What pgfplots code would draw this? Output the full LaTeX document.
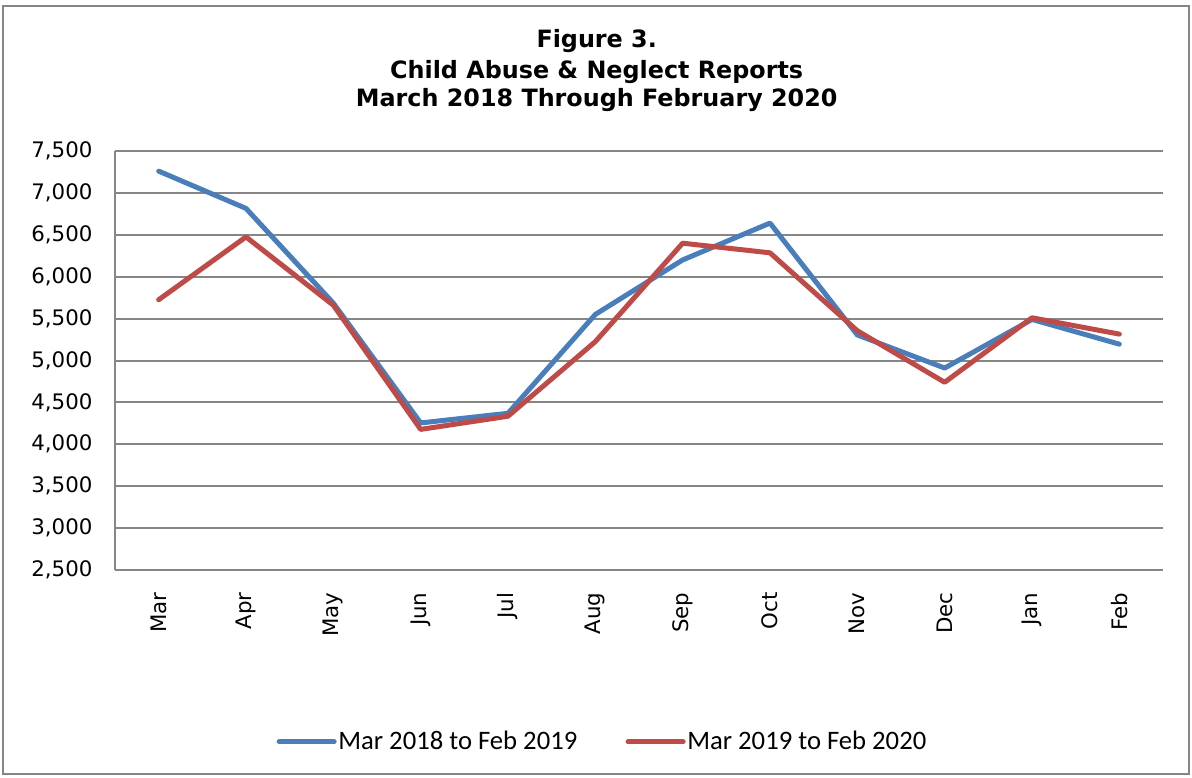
\documentclass[border=0pt]{standalone}
\usepackage{fontspec}
\setmainfont{Carlito}
\newfontfamily\verd{DejaVu Sans}
\usepackage{pgfplots}
\pgfplotsset{compat=1.18}

\definecolor{xlblue}{HTML}{4A7EBB}
\definecolor{xlred}{HTML}{BE4B48}
\definecolor{gridgray}{HTML}{868686}

\begin{document}
\begin{tikzpicture}
% page = reference at 0.6pt per pixel, axis origin at pixel (115,570)
\useasboundingbox (-69pt,-124.2pt) rectangle (646.2pt,342pt);
\draw[gridgray, line width=1.2pt] (-67.2pt,-122.4pt) rectangle (644.4pt,338.4pt);

\tikzset{ttl/.style={anchor=base, font=\verd\bfseries\fontsize{14.3}{17}\selectfont}}
\node[ttl] at (289pt,313.2pt) {Figure 3.};
\node[ttl] at (289pt,294.6pt) {Child Abuse \& Neglect Reports};
\node[ttl] at (289pt,277.8pt) {March 2018 Through February 2020};

\begin{axis}[
    scale only axis,
    width=628.8pt, height=251.4pt,
    xmin=-0.5, xmax=11.5,
    ymin=2500, ymax=7500,
    xtick={0,...,11},
    xticklabels={Mar,Apr,May,Jun,Jul,Aug,Sep,Oct,Nov,Dec,Jan,Feb},
    ytick={2500,3000,...,7500},
    axis lines=left,
    axis line style={draw=gridgray, line width=1.2pt, -},
    ymajorgrids,
    grid style={draw=gridgray, line width=1.2pt},
    major tick length=0pt,
    x tick label style={rotate=90, anchor=east, font=\verd\fontsize{12.8}{14}\selectfont, xshift=-10pt},
    y tick label style={font=\verd\fontsize{12.8}{14}\selectfont, xshift=-10pt},
    /pgf/number format/assume math mode=true,
    /pgf/number format/1000 sep={,},
    /pgf/number format/fixed,
    legend style={at={(axis description cs:0.465,-0.41)}, anchor=center,
        legend columns=2, draw=none, font=\fontsize{16}{18}\selectfont,
        /tikz/every even column/.append style={column sep=28pt},
        nodes={inner sep=1pt}},
    legend image code/.code={\draw[#1, line width=3pt, line cap=round] (0pt,0pt) -- (33pt,0pt);},
]
\addplot[xlblue, line width=3pt, line join=round, line cap=round] coordinates {
    (0,7260) (1,6815) (2,5685) (3,4255) (4,4370) (5,5550)
    (6,6200) (7,6640) (8,5305) (9,4910) (10,5490) (11,5195)
};
\addlegendentry{Mar 2018 to Feb 2019}
\addplot[xlred, line width=3pt, line join=round, line cap=round] coordinates {
    (0,5725) (1,6475) (2,5660) (3,4178) (4,4335) (5,5225)
    (6,6400) (7,6285) (8,5355) (9,4740) (10,5510) (11,5315)
};
\addlegendentry{Mar 2019 to Feb 2020}
\end{axis}
\end{tikzpicture}
\end{document}
